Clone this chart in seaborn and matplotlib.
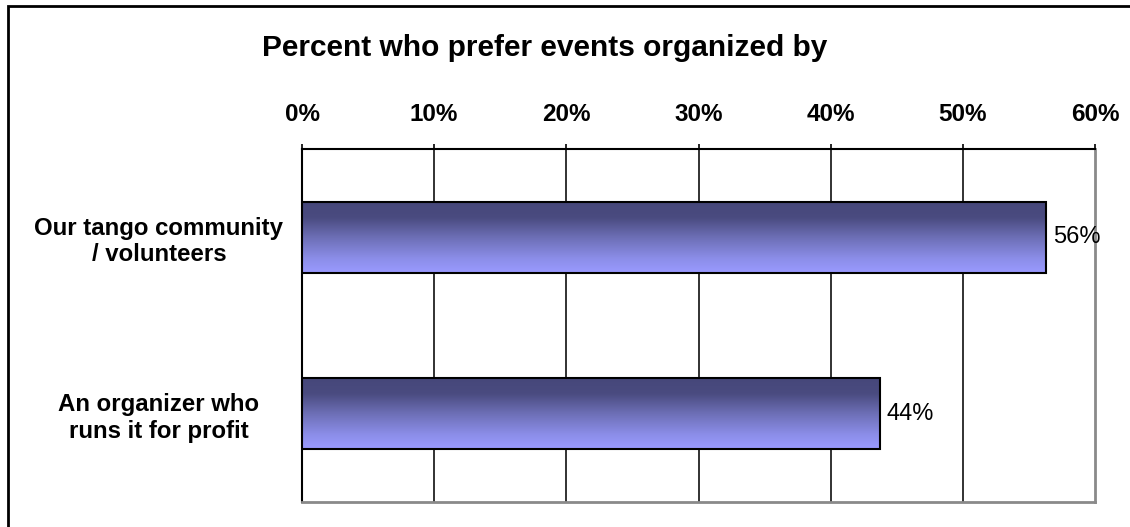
import numpy as np
import matplotlib.pyplot as plt
import seaborn as sns
from matplotlib.colors import LinearSegmentedColormap
from matplotlib.patches import Rectangle

categories = ['Our tango community\n/ volunteers', 'An organizer who\nruns it for profit']
percent = [56.3, 43.7]
value_labels = ['56%', '44%']
tick_values = [0, 10, 20, 30, 40, 50, 60]

sns.set_theme(style='white')
plt.rcParams['font.family'] = ['Liberation Sans', 'DejaVu Sans']
plt.rcParams['text.color'] = 'black'
plt.rcParams['xtick.color'] = 'black'
plt.rcParams['ytick.color'] = 'black'

fig = plt.figure(figsize=(11.3, 5.27), dpi=100)
ax = fig.add_axes([302 / 1130, 1 - 502 / 527, (1095 - 302) / 1130, (502 - 149) / 527])

sns.barplot(x=percent, y=categories, orient='h', width=0.4, ax=ax,
            color='#6e70b8', edgecolor='black', linewidth=1.5, zorder=3)

# gradient fill inside each bar (dark top -> light bottom)
grad = LinearSegmentedColormap.from_list('bar', [
    (0.0, '#46477a'), (0.22, '#4a4b80'), (0.5, '#6d6fb6'),
    (0.8, '#8c8ee9'), (1.0, '#9a9aff')])
g = np.linspace(0, 1, 256).reshape(-1, 1)
for p in ax.patches:
    x0, y0 = p.get_x(), p.get_y()
    w, h = p.get_width(), p.get_height()
    im = ax.imshow(g, cmap=grad, aspect='auto', extent=[x0, x0 + w, y0 + h, y0],
                   origin='upper', zorder=3.5)
    im.set_clip_path(p)
    p.set_facecolor('none')
    p.set_zorder(4)

for p, lab in zip(ax.patches, value_labels):
    ax.text(p.get_x() + p.get_width() + 0.5, p.get_y() + p.get_height() / 2, lab,
            va='center', ha='left', fontsize=17, color='black', zorder=5)

ax.set_xlim(0, 60)
ax.set_ylim(1.5, -0.5)
ax.xaxis.tick_top()
ax.set_xticks(tick_values)
ax.set_xticklabels([f'{t}%' for t in tick_values], fontsize=17.5, fontweight='bold')
ax.tick_params(axis='x', which='major', direction='out', length=3.5, width=1.2,
               colors='black', pad=13, top=True, bottom=False)
ax.set_yticks([0, 1])
ax.set_yticklabels(categories, fontsize=17.3, fontweight='bold', multialignment='center',
                   ha='center')
ax.tick_params(axis='y', which='major', length=0, pad=103, colors='black')
ax.set_yticks([-0.5, 0.5, 1.5], minor=True)
ax.tick_params(axis='y', which='minor', direction='out', length=5, width=1.5, color='#777777')
ax.set_xlabel('')
ax.set_ylabel('')

for t in tick_values[1:-1]:
    ax.axvline(t, color='#222222', lw=1.3, zorder=1)

ax.spines['top'].set_color('black')
ax.spines['top'].set_linewidth(1.5)
ax.spines['left'].set_color('black')
ax.spines['left'].set_linewidth(1.5)
ax.spines['right'].set_color('#8a8a8a')
ax.spines['right'].set_linewidth(2)
ax.spines['bottom'].set_color('#8a8a8a')
ax.spines['bottom'].set_linewidth(2)

fig.text(545 / 1130, 1 - 48 / 527, 'Percent who prefer events organized by',
         ha='center', va='center', fontsize=21.5, fontweight='bold', color='black')

fig.patches.append(Rectangle((7.5 / 1130, -0.5), 2, 1.5 - 5.5 / 527,
                             transform=fig.transFigure, fill=False,
                             edgecolor='black', linewidth=2))

fig.savefig('out.png', dpi=100, facecolor='white')
